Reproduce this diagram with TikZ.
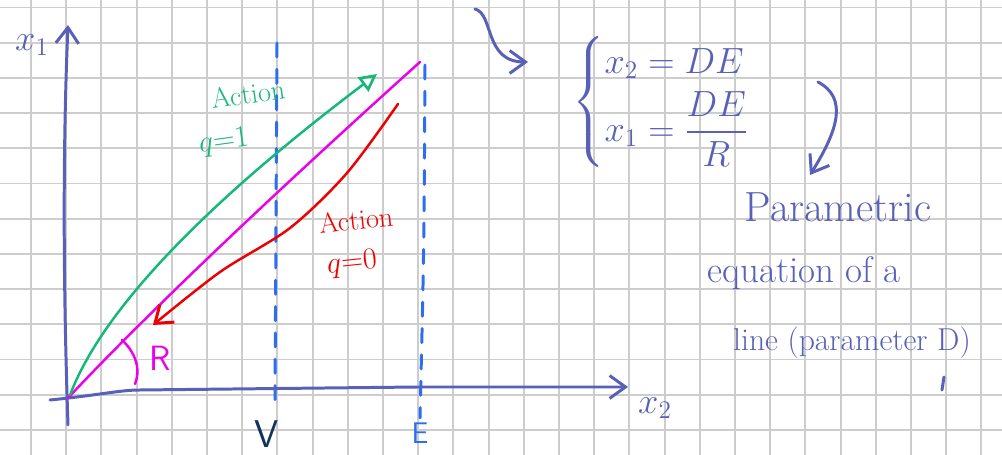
\documentclass[tikz,border=0pt]{standalone}
\usepackage{amsmath}
\usetikzlibrary{arrows.meta, positioning}

\definecolor{ink}{RGB}{88,96,184}
\definecolor{inkgreen}{RGB}{22,184,122}
\definecolor{inkmag}{RGB}{236,0,236}
\definecolor{inkred}{RGB}{238,0,0}
\definecolor{inkdash}{RGB}{45,110,240}
\definecolor{inknavy}{RGB}{16,52,92}
\definecolor{gridgray}{RGB}{205,205,205}

\begin{document}
\begin{tikzpicture}[
    x=0.02cm, y=-0.02cm,
    pen/.style={line width=1.7pt, line cap=round, line join=round},
    guide/.style={pen, inkdash, dash pattern=on 8pt off 7pt},
    barb/.style={-{Straight Barb[length=9pt, width=13pt, line width=1.7pt]}},
    openhead/.style={-{Triangle[open, length=10pt, width=10pt, line width=1.5pt]}},
    hand/.style={font=\fontsize{16}{20}\selectfont, inner sep=0pt},
    note/.style={ink, font=\fontsize{21}{24}\selectfont, inner sep=1pt}
]
    % Paper
    \fill[white] (0,0) rectangle (1002,455);
    \useasboundingbox (0,0) rectangle (1002,455);
    \foreach \gx in {0,...,27}
        \draw[gridgray, line width=1.1pt] ({31+35.2*\gx},0) -- ++(0,455);
    \foreach \gy in {0,...,12}
        \draw[gridgray, line width=1.1pt] (0,{7.5+35.2*\gy}) -- ++(1002,0);

    % Points
    \coordinate (O) at (68,398);
    \coordinate (ybot) at (68,425);
    \coordinate (ytop) at (68,25);
    \coordinate (xbot) at (50,400);
    \coordinate (xtop) at (628,387);

    % Guides at V and E
    \draw[guide] (277,43) -- (275,402);
    \draw[guide] (425,65) .. controls (424,250) .. (420,418);
    \node[inknavy, font=\fontsize{22}{24}\selectfont\sffamily, inner sep=0pt] (vlabel) at (267,434) {V};
    \node[inkdash, font=\fontsize{17}{20}\selectfont\sffamily] (elabel) at (420,433) {E};

    % Axes
    \draw[pen, ink, barb] (ybot) .. controls (62,250) and (64,120) .. (ytop);
    \draw[pen, ink, barb] (xbot) .. controls (100,395) and (120,390) .. (140,390)
        -- (418,387) -- (xtop);
    \node[ink, font=\fontsize{22}{24}\selectfont] (xonelabel) at (32,45) {$x_1$};
    \node[ink, font=\fontsize{22}{24}\selectfont] (xtwolabel) at (655,408) {$x_2$};

    % Line of slope R
    \draw[pen, inkmag, line width=1.4pt] (O) .. controls (160,300) and (300,170) .. (420,62);
    \draw[pen, inkmag, line width=1.4pt] (122,340) .. controls (138,355) and (140,372) .. (135,384);
    \node[inkmag, font=\fontsize{20}{22}\selectfont\sffamily] (rlabel) at (160,358) {R};

    % Action q=1
    \draw[pen, inkgreen, line width=1.4pt, openhead] (70,395) .. controls (110,290) and (250,170) .. (377,74);
    \node[hand, inkgreen, rotate=8] (greenlabel) at (248,94) {Action};
    \node[hand, inkgreen, rotate=8] (greenq) at (224,142) {$q{=}1$};

    % Action q=0
    \draw[pen, inkred, line width=1.4pt, barb] plot[smooth] coordinates
        {(398,104) (347,173) (290,228) (220,272) (153,325)};
    \node[hand, inkred, rotate=6] (redlabel) at (356,220) {Action};
    \node[hand, inkred, rotate=6, below left=8pt and -32pt of redlabel] (redq) {$q{=}0$};

    % Equations
    \node[ink, font=\fontsize{20}{24}\selectfont, anchor=west] (eqs) at (566,102)
        {$\begin{cases} x_2 = DE \\[2pt] x_1 = \dfrac{DE}{R} \end{cases}$};
    \coordinate (hook) at (475,9);
    \draw[pen, ink, barb] (hook) .. controls (494,14) and (484,62) .. (528,62);

    % Remark
    \node[note, font=\fontsize{24}{26}\selectfont] (para1) at (838,207) {Parametric};
    \node[note] (para2) at (804,273) {equation of a};
    \node[note, font=\fontsize{18}{20}\selectfont] (para3) at (852,343) {line (parameter D)};
    \coordinate (bend) at (818,82);
    \draw[pen, ink, barb] (bend) .. controls (848,98) and (838,130) .. (810,175);
    \draw[pen, ink] (944,377) -- (942,390);
\end{tikzpicture}
\end{document}
